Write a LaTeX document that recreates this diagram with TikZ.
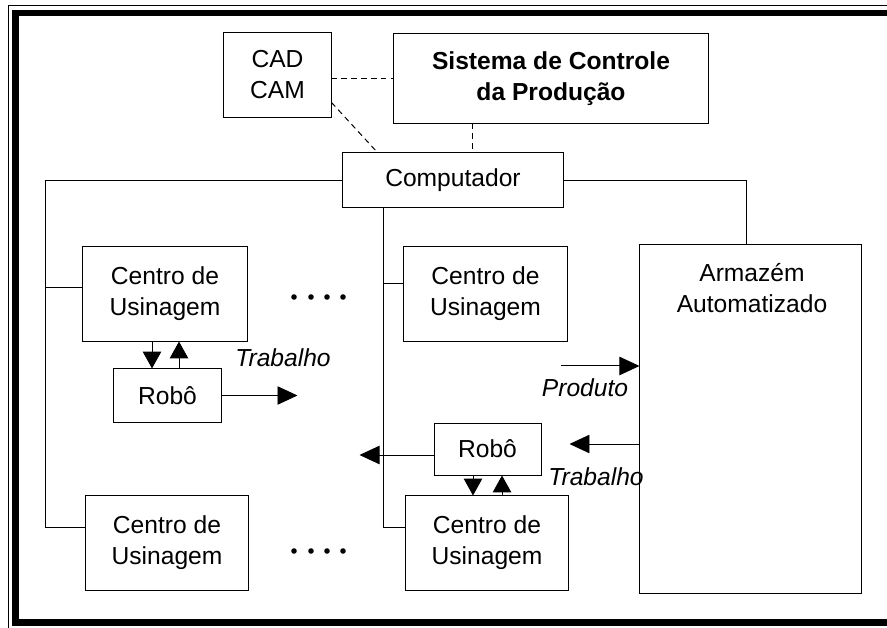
\documentclass[tikz,border=0pt]{standalone}
\usepackage{fontspec}
\setmainfont{Liberation Sans}
\usetikzlibrary{arrows.meta}

\tikzset{
  box/.style={draw, line width=0.7pt, align=center, inner sep=0pt,
    font=\fontsize{17.5}{22}\selectfont},
  lnk/.style={line width=0.7pt},
  dsh/.style={line width=0.7pt, dash pattern=on 4pt off 3pt},
  arr/.style={line width=0.7pt, -{Triangle[length=0.5cm,width=0.46cm]}},
  arrs/.style={line width=0.7pt, -{Triangle[length=0.42cm,width=0.46cm]}},
  lbl/.style={inner sep=0pt, font=\fontsize{17.5}{22}\selectfont\itshape},
}

\begin{document}
\begin{tikzpicture}[x=0.025cm, y=-0.025cm]
\useasboundingbox (0,0) rectangle (887,628);
\clip (0,0) rectangle (887,628);
\draw[line width=0.7pt] (8,5) rectangle (930,660);
\draw[line width=4.6pt] (15.5,13) rectangle (930,622.5);

\node[box, minimum width=2.675cm, minimum height=2.1cm] (cad) at (277.5,75) {CAD\\CAM};
\node[box, minimum width=7.85cm, minimum height=2.225cm,
  font=\fontsize{17.5}{22}\selectfont\bfseries] (sist) at (551,78.5) {Sistema de Controle\\da Produção};
\node[box, minimum width=5.5cm, minimum height=1.35cm] (comp) at (453,180) {Computador};

\node[box, minimum width=4.1cm, minimum height=2.35cm] (cuA) at (165,294) {Centro de\\Usinagem};
\node[box, minimum width=4.075cm, minimum height=2.35cm] (cuB) at (485.5,294) {Centro de\\Usinagem};
\node[box, minimum width=4.05cm, minimum height=2.35cm] (cuC) at (167,543) {Centro de\\Usinagem};
\node[box, minimum width=4.05cm, minimum height=2.35cm] (cuD) at (487,543) {Centro de\\Usinagem};

\node[box, minimum width=2.675cm, minimum height=1.325cm] (roboA) at (167.5,395.5) {Robô};
\node[box, minimum width=2.675cm, minimum height=1.3cm] (roboB) at (487.5,449) {Robô};

\node[box, minimum width=5.525cm, minimum height=8.7cm] (arm) at (750.5,419) {};
\node[box, draw=none] (armtxt) at (752,288) {Armazém\\Automatizado};

\draw[dsh] (cad.east |- sist.west) -- (sist.west);
\draw[dsh] (cad.-27.6) -- ([xshift=0.875cm]comp.north west);
\draw[dsh] ([xshift=0.475cm]comp.north |- sist.south) -- ([xshift=0.475cm]comp.north);

\draw[lnk] (comp.west) -| ([xshift=-1cm, yshift=0.4cm]cuC.west) -- ([yshift=0.4cm]cuC.west);
\draw[lnk] ([yshift=0.175cm]cuA.west) -- ++(-37,0);
\draw[lnk] ([xshift=-1.725cm]comp.south) |- ([yshift=0.4cm]cuD.west);
\draw[lnk] ([yshift=0.275cm]cuB.west) -- ++(-20,0);
\draw[lnk] (comp.east) -| ([xshift=-0.1cm]arm.north);

\draw[arrs] ([xshift=-0.325cm]cuA.south) -- ([xshift=-0.325cm]cuA.south |- roboA.north);
\draw[arrs] ([xshift=0.35cm]cuA.south |- roboA.north) -- ([xshift=0.35cm]cuA.south);
\draw[arr] (roboA.east) -- ++(76,0);

\draw[arrs] ([xshift=-0.3625cm]roboB.south) -- ([xshift=-0.3625cm]roboB.south |- cuD.north);
\draw[arrs] ([xshift=0.3625cm]roboB.south |- cuD.north) -- ([xshift=0.3625cm]roboB.south);
\draw[arr] ([yshift=-0.15cm]roboB.west) -- ++(-74,0);

\draw[arr] ([yshift=1.325cm]arm.west) ++(-78,0) -- ([yshift=1.325cm]arm.west);
\draw[arr] ([yshift=-0.625cm]arm.west) -- ++(-70,0);

\node[lbl] (trabA) at (283,358) {Trabalho};
\node[lbl] (prod) at (585,388) {Produto};
\node[lbl] (trabB) at (596,477) {Trabalho};

\foreach \x in {294,311,327,343} {
  \fill (\x,297) circle[radius=2.8];
  \fill (\x,551) circle[radius=2.8];
}
\end{tikzpicture}
\end{document}
